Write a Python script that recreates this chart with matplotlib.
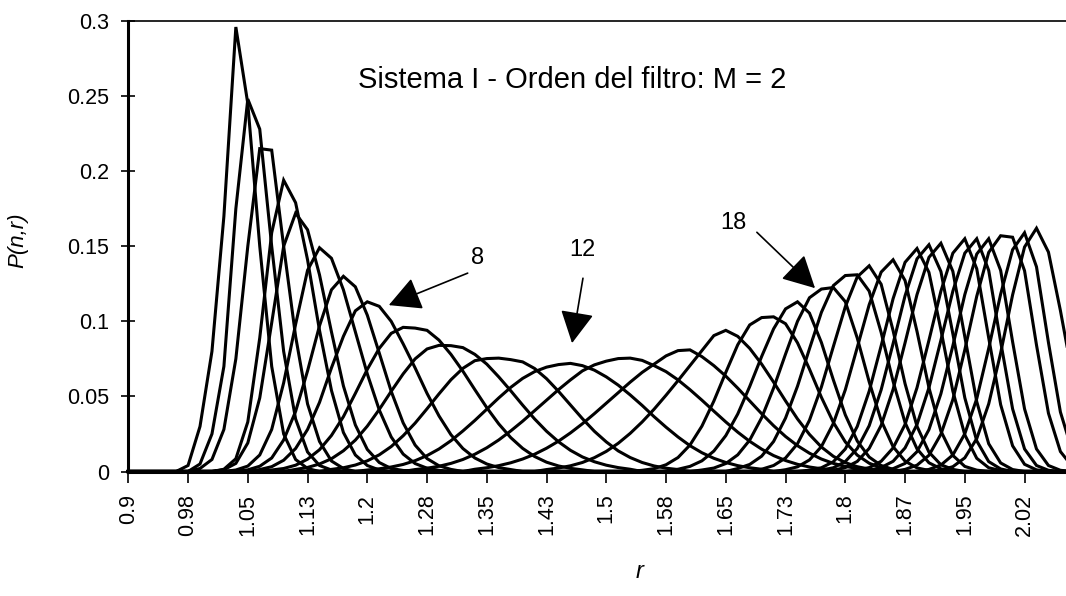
import numpy as np
import matplotlib.pyplot as plt

plt.rcParams['font.family'] = ['Liberation Sans', 'DejaVu Sans']

# r categories (Excel category axis, step 0.015)
r = np.round(0.9 + 0.015 * np.arange(81), 4)

tick_labels = ["0.9", "0.98", "1.05", "1.13", "1.2", "1.28", "1.35", "1.43",
               "1.5", "1.58", "1.65", "1.73", "1.8", "1.87", "1.95", "2.02"]
ytick_vals = [0, 0.05, 0.1, 0.15, 0.2, 0.25, 0.3]
ytick_labels = ["0", "0.05", "0.1", "0.15", "0.2", "0.25", "0.3"]

# P(n,r), one list per n, first index given in starts
starts = [5, 6, 6, 8, 8, 9, 10, 11, 12, 14, 17, 20, 24, 29, 35,
          43, 46, 48, 51, 53, 55, 57, 58, 59, 61, 62, 64, 65, 67, 68]

p01 = [0.004, 0.03, 0.08, 0.17, 0.296, 0.245, 0.15, 0.07, 0.025, 0.008, 0.002]
p02 = [0.005, 0.025, 0.07, 0.175, 0.248, 0.228, 0.15, 0.08, 0.035, 0.013, 0.004, 0.001]
p03 = [0.002, 0.008, 0.028, 0.075, 0.15, 0.215, 0.214, 0.15, 0.09, 0.045, 0.02, 0.007, 0.002]
p04 = [0.0015, 0.0085, 0.033, 0.089, 0.159, 0.194, 0.179, 0.141, 0.094, 0.054, 0.026,
       0.011, 0.004, 0.001]
p05 = [0.0012, 0.0054, 0.019, 0.049, 0.099, 0.150, 0.172, 0.161, 0.131, 0.093, 0.057,
       0.031, 0.0147, 0.006, 0.002, 0.0007]
p06 = [0.001, 0.0036, 0.011, 0.028, 0.059, 0.098, 0.134, 0.149, 0.142, 0.121, 0.093,
       0.065, 0.041, 0.023, 0.0116, 0.0053, 0.0022, 0.0008]
p07 = [0.0011, 0.0035, 0.009, 0.021, 0.040, 0.067, 0.097, 0.121, 0.130, 0.123, 0.1041,
       0.0789, 0.0534, 0.0324, 0.0176, 0.0086, 0.0038, 0.0014]
p08 = [0.0013, 0.0032, 0.0075, 0.0153, 0.028, 0.046, 0.069, 0.090, 0.107, 0.113, 0.110,
       0.100, 0.085, 0.069, 0.052, 0.037, 0.0245, 0.0153, 0.009, 0.005, 0.0026, 0.0013]
p09 = [0.001, 0.002, 0.0042, 0.0082, 0.0145, 0.024, 0.0365, 0.052, 0.068, 0.082, 0.092,
       0.096, 0.0955, 0.094, 0.0875, 0.078, 0.0668, 0.0545, 0.0425, 0.0317, 0.0226,
       0.0154, 0.010, 0.0062, 0.0037, 0.0021, 0.0011]
p10 = [0.0014, 0.0027, 0.005, 0.0085, 0.0138, 0.0209, 0.0302, 0.0413, 0.0534, 0.065,
       0.075, 0.0816, 0.084, 0.0838, 0.0825, 0.078, 0.0715, 0.063, 0.0538, 0.0442, 0.035,
       0.0268, 0.0198, 0.0141, 0.0097, 0.0065, 0.0042, 0.0026, 0.0015]
p11 = [0.0014, 0.0025, 0.0043, 0.0071, 0.0111, 0.0166, 0.0238, 0.0322, 0.0418, 0.0517,
       0.0611, 0.0687, 0.0738, 0.0752, 0.0755, 0.0745, 0.073, 0.0686, 0.0618, 0.0534,
       0.0443, 0.0352, 0.0268, 0.0197, 0.0137, 0.0093, 0.006, 0.0037, 0.0022, 0.0013]
p12 = [0.001, 0.0018, 0.003, 0.0047, 0.0072, 0.0106, 0.015, 0.0205, 0.027, 0.034, 0.0415,
       0.049, 0.056, 0.062, 0.0665, 0.0695, 0.0712, 0.072, 0.0705, 0.0675, 0.063, 0.0575,
       0.051, 0.044, 0.0365, 0.0295, 0.023, 0.0172, 0.0125, 0.0088, 0.006, 0.0039,
       0.0025, 0.0015]
p13 = [0.0013, 0.0022, 0.0035, 0.0054, 0.008, 0.0115, 0.0158, 0.021, 0.027, 0.0335,
       0.0405, 0.0475, 0.0545, 0.061, 0.067, 0.071, 0.0735, 0.0752, 0.0755, 0.074,
       0.0705, 0.0665, 0.061, 0.0545, 0.0475, 0.0402, 0.033, 0.0262, 0.0201, 0.0149,
       0.0106, 0.0073, 0.0048, 0.003, 0.0018, 0.001]
p14 = [0.0015, 0.0025, 0.0039, 0.0058, 0.0083, 0.0115, 0.0155, 0.0202, 0.0257, 0.0318,
       0.0385, 0.0455, 0.0525, 0.0595, 0.066, 0.0715, 0.077, 0.0805, 0.081, 0.0765,
       0.0705, 0.0635, 0.0555, 0.047, 0.0385, 0.0305, 0.0233, 0.0172, 0.0122, 0.0083,
       0.0054, 0.0034, 0.002, 0.0011]
p15 = [0.0013, 0.0023, 0.0038, 0.006, 0.0092, 0.0134, 0.0188, 0.0254, 0.033, 0.0415,
       0.0508, 0.0605, 0.0705, 0.0805, 0.0905, 0.094, 0.090, 0.082, 0.0715, 0.0595,
       0.047, 0.035, 0.0247, 0.0163, 0.0101, 0.0059, 0.0032, 0.0016, 0.0008]
p16 = [0.0008, 0.0019, 0.0045, 0.0093, 0.0176, 0.0302, 0.0469, 0.066, 0.0844, 0.0976,
       0.1025, 0.103, 0.0984, 0.0857, 0.0682, 0.0494, 0.0327, 0.0197, 0.0109, 0.0055,
       0.0025, 0.001]
p17 = [0.0015, 0.0034, 0.0071, 0.0136, 0.0239, 0.0383, 0.0566, 0.0766, 0.095, 0.1083,
       0.113, 0.1055, 0.0859, 0.061, 0.0377, 0.0203, 0.0096, 0.004, 0.0014]
p18 = [0.001, 0.0023, 0.0053, 0.0111, 0.0209, 0.0358, 0.0556, 0.0782, 0.100, 0.1157,
       0.1215, 0.1225, 0.1131, 0.0889, 0.0597, 0.034, 0.0165, 0.0069, 0.0024, 0.0007]
p19 = [0.002, 0.0047, 0.0102, 0.02, 0.0356, 0.0568, 0.0817, 0.106, 0.1238, 0.1305,
       0.131, 0.1201, 0.0926, 0.06, 0.0326, 0.0151, 0.0058, 0.0018]
p20 = [0.0015, 0.004, 0.009, 0.0185, 0.0341, 0.0563, 0.0832, 0.1097, 0.1296, 0.137,
       0.1247, 0.0938, 0.0585, 0.0301, 0.0129, 0.0045, 0.0014]
p21 = [0.0012, 0.0031, 0.0077, 0.0166, 0.032, 0.0544, 0.0826, 0.1111, 0.1328, 0.141,
       0.1272, 0.0933, 0.0558, 0.0269, 0.0107, 0.0034, 0.0009]
p22 = [0.0009, 0.0025, 0.0065, 0.015, 0.03, 0.0535, 0.0837, 0.1151, 0.1393, 0.1485,
       0.1326, 0.0944, 0.0535, 0.0244, 0.0088, 0.0025, 0.0006]
p23 = [0.0009, 0.0025, 0.0066, 0.0153, 0.0305, 0.0544, 0.0852, 0.117, 0.1416, 0.151,
       0.1332, 0.0917, 0.0491, 0.0204, 0.0066, 0.0017]
p24 = [0.0009, 0.0026, 0.0067, 0.0154, 0.0307, 0.0547, 0.0857, 0.1178, 0.1426, 0.152,
       0.1333, 0.0898, 0.0465, 0.0185, 0.0057, 0.0013]
p25 = [0.0009, 0.0026, 0.0068, 0.0157, 0.0313, 0.0558, 0.0874, 0.1201, 0.1454, 0.155,
       0.135, 0.089, 0.0445, 0.0171, 0.0048, 0.0011]
p26 = [0.0009, 0.0026, 0.0068, 0.0157, 0.0313, 0.0558, 0.0874, 0.1201, 0.1454, 0.155,
       0.1339, 0.0864, 0.0417, 0.015, 0.004, 0.0008]
p27 = [0.0019, 0.0054, 0.0132, 0.0279, 0.0518, 0.0837, 0.1178, 0.1448, 0.155, 0.1339,
       0.0864, 0.0417, 0.015, 0.004, 0.0008]
p28 = [0.0014, 0.0042, 0.0108, 0.0248, 0.0479, 0.081, 0.1167, 0.1459, 0.157, 0.156,
       0.1337, 0.0842, 0.0388, 0.0133, 0.0033]
p29 = [0.0014, 0.0043, 0.011, 0.0251, 0.0485, 0.082, 0.1181, 0.1477, 0.159, 0.1363,
       0.0859, 0.0396, 0.0135, 0.0033]
p30 = [0.001, 0.0032, 0.0091, 0.0219, 0.045, 0.0789, 0.1176, 0.1495, 0.162, 0.1461,
       0.1072, 0.0642, 0.031]

curves = [p01, p02, p03, p04, p05, p06, p07, p08, p09, p10, p11, p12, p13, p14, p15,
          p16, p17, p18, p19, p20, p21, p22, p23, p24, p25, p26, p27, p28, p29, p30]

W, H = 1066, 596
fig = plt.figure(figsize=(W / 100, H / 100), dpi=100)
# plot area: left spine at x=128, zero line at y=471, top line at y=21, runs off the right edge
ax = fig.add_axes([128.3 / W, 1 - 471.5 / H, 1 - 128.3 / W, (471.5 - 21) / H])

for s, vals in zip(starts, curves):
    y = np.zeros(len(r))
    y[s:s + len(vals)] = vals
    ax.plot(r, y, color='black', lw=2.2, solid_joinstyle='miter', clip_on=False)

x_right = 0.9 + (W - 128.3) / 11.95 * 0.015
ax.set_xlim(0.9, x_right)
ax.set_ylim(0, 0.3)

ax.set_xticks(r[::5][:len(tick_labels)])
ax.set_xticklabels(tick_labels, rotation=90, va='top', ha='center')
ax.set_yticks(ytick_vals)
ax.set_yticklabels(ytick_labels)

ax.tick_params(axis='y', direction='inout', length=10, width=1.2, labelsize=15.5, pad=9)
ax.tick_params(axis='x', direction='out', length=8, width=1.2, labelsize=15.5, pad=8)

ax.spines['right'].set_visible(False)
ax.spines['left'].set_linewidth(2.2)
ax.spines['bottom'].set_linewidth(2.2)
ax.spines['top'].set_linewidth(1.2)

# annotations for n = 8, 12, 18
arrow = dict(arrowstyle='-|>,head_length=0.8,head_width=0.42', mutation_scale=25,
             color='black', lw=1.2, shrinkA=0, shrinkB=0)
ax.annotate('', xy=(1.227, 0.1108), xytext=(1.326, 0.1321), arrowprops=arrow)
ax.annotate('', xy=(1.457, 0.0855), xytext=(1.4707, 0.1287), arrowprops=arrow)
ax.annotate('', xy=(1.762, 0.1221), xytext=(1.689, 0.1593), arrowprops=arrow)
ax.text(1.339, 0.142, '8', fontsize=17, ha='center', va='center')
ax.text(1.4695, 0.1474, '12', fontsize=17, ha='center', va='center')
ax.text(1.659, 0.1653, '18', fontsize=17, ha='center', va='center')

fig.text(572 / W, 1 - 80 / H, 'Sistema I - Orden del filtro: M = 2', fontsize=21,
         ha='center', va='center')
fig.text(18 / W, 1 - 240 / H, 'P(n,r)', fontsize=16, style='italic', rotation=90,
         ha='center', va='center')
fig.text(640 / W, 1 - 572 / H, 'r', fontsize=17, style='italic', ha='center', va='center')

fig.savefig('out.png', dpi=100)
